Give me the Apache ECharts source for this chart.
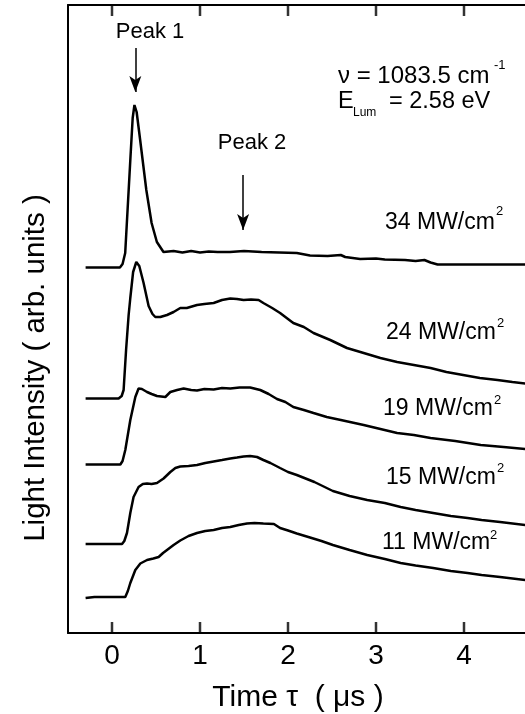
<!DOCTYPE html>
<html>
<head>
<meta charset="utf-8">
<script src="https://cdn.jsdelivr.net/npm/echarts@6/dist/echarts.min.js"></script>
<style>
  html, body { margin: 0; padding: 0; background: #fff; }
  #main { width: 525px; height: 714px; }
</style>
</head>
<body>
<div id="main"></div>
<script>
// time axis ticks (µs)
var xTicks = [0, 1, 2, 3, 4];

// light intensity traces, [time µs, intensity arb. units], offset as in the figure
var trace34 = [
  [-0.3, 365.5], [0.09, 365.5], [0.12, 369], [0.15, 380], [0.18, 428], [0.21, 476], [0.235, 515],
  [0.255, 528], [0.28, 521], [0.32, 493], [0.39, 443], [0.45, 410], [0.51, 391], [0.585, 381],
  [0.7, 382], [0.8, 380.5], [0.9, 382], [1.0, 380.5], [1.1, 381.5], [1.2, 381], [1.34, 381],
  [1.5, 382], [1.7, 381], [1.9, 380.5], [2.1, 380], [2.25, 377.5], [2.45, 377], [2.6, 378],
  [2.65, 376], [2.82, 374], [3.0, 374.5], [3.1, 373.5], [3.33, 373], [3.45, 372], [3.55, 373],
  [3.62, 370.5], [3.7, 368.5], [4.7, 368.5]
];
var trace24 = [
  [-0.3, 234.5], [0.075, 234.5], [0.11, 237], [0.132, 243], [0.16, 283], [0.189, 318], [0.208, 335],
  [0.24, 361], [0.276, 371], [0.31, 367], [0.359, 350], [0.416, 327], [0.46, 319], [0.492, 316],
  [0.549, 316], [0.625, 318], [0.7, 321], [0.776, 325], [0.85, 325], [0.966, 328], [1.05, 329],
  [1.155, 330], [1.25, 333], [1.344, 334.5], [1.42, 334], [1.495, 333], [1.58, 333.5], [1.666, 333],
  [1.72, 330], [1.82, 325], [1.91, 320], [2.06, 310], [2.18, 306], [2.29, 300], [2.48, 293],
  [2.67, 285], [2.86, 280], [3.05, 275], [3.24, 271], [3.43, 268], [3.62, 265], [3.8, 261],
  [3.99, 258], [4.18, 255], [4.38, 253], [4.55, 251], [4.7, 249.5]
];
var trace19 = [
  [-0.3, 168.5], [0.095, 168.5], [0.12, 172], [0.151, 183], [0.208, 213], [0.265, 236], [0.302, 244.5],
  [0.34, 244], [0.398, 241], [0.45, 239], [0.511, 237], [0.606, 236], [0.663, 241], [0.74, 243],
  [0.814, 244.5], [0.9, 243], [0.966, 242.5], [1.05, 244], [1.155, 243.5], [1.25, 245], [1.344, 244.5],
  [1.45, 245.5], [1.57, 245.5], [1.685, 243], [1.78, 239], [1.875, 234], [1.97, 231], [2.06, 226],
  [2.18, 223], [2.29, 220], [2.44, 216], [2.6, 213], [2.86, 208], [3.05, 204], [3.24, 200],
  [3.43, 198], [3.62, 195], [3.9, 192], [4.19, 188], [4.45, 186], [4.7, 184]
];
var trace15 = [
  [-0.3, 89], [0.114, 89], [0.14, 92], [0.17, 100], [0.208, 120], [0.245, 136], [0.302, 146],
  [0.35, 149], [0.398, 149.5], [0.45, 149], [0.511, 150], [0.586, 154.5], [0.663, 161], [0.72, 165],
  [0.776, 166.5], [0.87, 167], [0.966, 168], [1.06, 170], [1.155, 171.5], [1.25, 173], [1.344, 174.5],
  [1.42, 175.5], [1.495, 176.5], [1.57, 177], [1.648, 176], [1.72, 173], [1.8, 170], [1.91, 165],
  [2.0, 161], [2.1, 158], [2.3, 151], [2.51, 142], [2.7, 137], [2.9, 133], [3.1, 130], [3.28, 126],
  [3.45, 123], [3.65, 120], [3.85, 117], [4.04, 115], [4.2, 113], [4.41, 111], [4.7, 108]
];
var trace11 = [
  [-0.3, 35], [-0.2, 36], [0.151, 36], [0.18, 42], [0.208, 50], [0.265, 63], [0.322, 69.5],
  [0.398, 73], [0.47, 74.5], [0.53, 76], [0.58, 80], [0.625, 83], [0.7, 88], [0.776, 92.5],
  [0.87, 97], [0.966, 100], [1.06, 102], [1.155, 103], [1.25, 105], [1.344, 106], [1.44, 108],
  [1.534, 109.5], [1.62, 110], [1.72, 109.5], [1.84, 109], [1.91, 105], [2.0, 102.5], [2.1, 99.5],
  [2.25, 95.5], [2.38, 92], [2.51, 88], [2.7, 83], [2.9, 78], [3.1, 74], [3.28, 70], [3.45, 67.5],
  [3.65, 65], [3.85, 62], [4.04, 60], [4.2, 58], [4.41, 56], [4.7, 53]
];
var traceNames = ['34 MW/cm2', '24 MW/cm2', '19 MW/cm2', '15 MW/cm2', '11 MW/cm2'];

// arrows: [time, from, to]
var peakArrows = [[0.265, 585, 541], [1.49, 458, 403]];

var FONT = 'Liberation Sans, Arial, Helvetica, sans-serif';
var Y_MAX = 628, TICK_LEN = 11;
var myChart = echarts.init(document.getElementById('main'));

function txt(text, x, y, size, align) {
  return {
    type: 'text', x: x, y: y, silent: true,
    style: {
      text: text, fill: '#000', font: size + 'px ' + FONT,
      align: align || 'left', verticalAlign: 'middle',
      textAlign: align || 'left', textVerticalAlign: 'middle'
    }
  };
}

var traces = [trace34, trace24, trace19, trace15, trace11];
var series = traces.map(function (d, i) {
  return {
    name: traceNames[i], type: 'line', data: d, showSymbol: false, animation: false,
    lineStyle: { color: '#000', width: 2.5 }, itemStyle: { color: '#000' }
  };
});

// peak arrows
series[0].markLine = {
  silent: true, animation: false,
  symbol: ['none', 'arrow'], symbolSize: [9, 16],
  lineStyle: { color: '#000', width: 1.5, type: 'solid' },
  label: { show: false },
  data: peakArrows.map(function (a) {
    return [{ coord: [a[0], a[1]] }, { coord: [a[0], a[2]] }];
  })
};

// inward frame ticks (bottom and top) as thin rect symbols on the time scale
var tickPts = [];
xTicks.forEach(function (t) {
  tickPts.push([t, TICK_LEN / 2]);
  tickPts.push([t, Y_MAX - TICK_LEN / 2]);
});
series.push({
  name: 'ticks', type: 'scatter', data: tickPts, silent: true, animation: false,
  symbol: 'rect', symbolSize: [2.5, TICK_LEN],
  itemStyle: { color: '#000' }, z: 10
});

function intLabel(v) {
  if (v > 4.5) return '';
  return Math.abs(v - Math.round(v)) < 1e-6 ? String(Math.round(v)) : '';
}

var option = {
  backgroundColor: '#fff',
  animation: false,
  grid: { left: 68, top: 5, height: 628, width: 484, outerBoundsMode: 'none', containLabel: false },
  xAxis: [{
    type: 'value', min: -0.5, max: 5, splitNumber: 5, position: 'bottom',
    axisLine: { show: true, onZero: false, lineStyle: { color: '#000', width: 2 } },
    axisTick: { show: false },
    axisLabel: { show: true, showMinLabel: false, formatter: intLabel, color: '#000', fontSize: 28, fontFamily: FONT, margin: 9 },
    splitLine: { show: false }
  }, {
    type: 'value', min: -0.5, max: 5, splitNumber: 5, position: 'top',
    axisLine: { show: true, onZero: false, lineStyle: { color: '#000', width: 2 } },
    axisTick: { show: false },
    axisLabel: { show: false },
    splitLine: { show: false }
  }],
  yAxis: {
    type: 'value', min: 0, max: Y_MAX,
    axisLine: { show: true, onZero: false, lineStyle: { color: '#000', width: 2 } },
    axisTick: { show: false }, axisLabel: { show: false }, splitLine: { show: false }
  },
  series: series,
  graphic: [
    txt('Peak 1', 150, 32, 22, 'center'),
    txt('Peak 2', 252, 143, 22, 'center'),
    txt('\u03bd = 1083.5 cm', 338, 76, 24),
    txt('-1', 494, 65, 13),
    txt('E', 338, 102, 23.5),
    txt('Lum', 353, 113, 12),
    txt('= 2.58 eV', 389, 102, 23.5),
    txt('34 MW/cm', 385, 223, 23),
    txt('2', 496, 211, 13),
    txt('24 MW/cm', 386, 333, 23),
    txt('2', 497, 323, 13),
    txt('19 MW/cm', 383, 409, 23),
    txt('2', 494, 400, 13),
    txt('15 MW/cm', 386, 478, 23),
    txt('2', 497, 468, 13),
    txt('11 MW/cm', 382, 543, 23),
    txt('2', 490, 535, 13),
    txt('Time \u03c4  ( \u03bcs )', 298, 698, 30, 'center'),
    {
      type: 'text', x: 36, y: 368, rotation: Math.PI / 2, silent: true,
      style: {
        text: 'Light Intensity ( arb. units )', fill: '#000', font: '29.5px ' + FONT,
        align: 'center', verticalAlign: 'middle', textAlign: 'center', textVerticalAlign: 'middle'
      }
    }
  ]
};

myChart.setOption(option);
</script>
</body>
</html>
